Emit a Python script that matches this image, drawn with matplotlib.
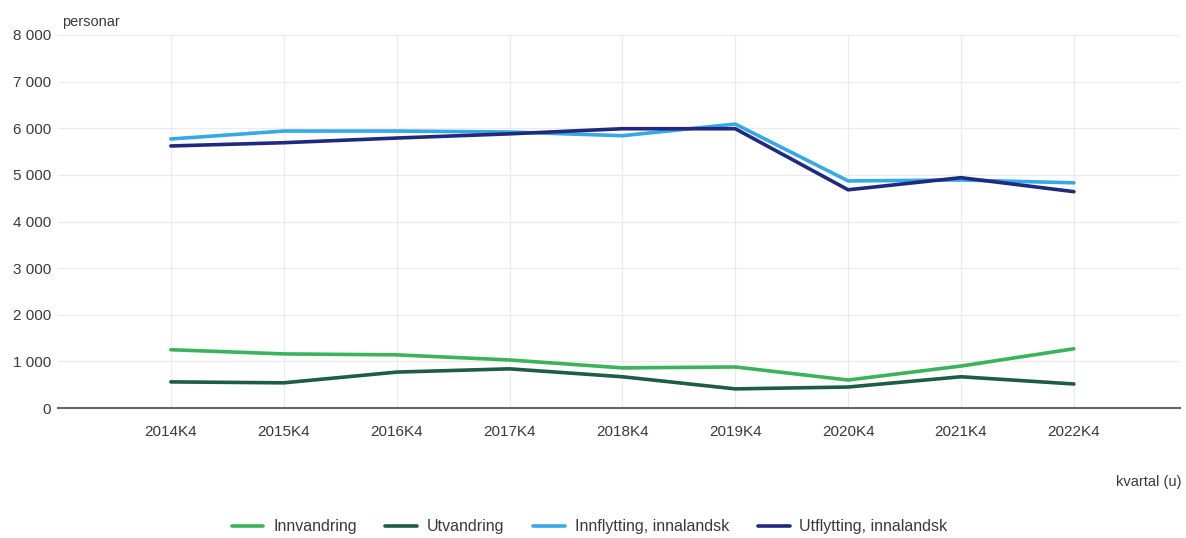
import matplotlib
matplotlib.use("Agg")
import matplotlib.pyplot as plt

# data
quarters = ["2014K4", "2015K4", "2016K4", "2017K4", "2018K4",
            "2019K4", "2020K4", "2021K4", "2022K4"]
innvandring = [1250, 1160, 1140, 1030, 860, 880, 600, 900, 1270]
utvandring = [560, 540, 770, 840, 670, 410, 450, 670, 515]
innflytting = [5770, 5940, 5940, 5920, 5840, 6090, 4870, 4890, 4830]
utflytting = [5620, 5690, 5790, 5880, 5990, 5990, 4680, 4940, 4640]

series = [
    ("Innvandring", innvandring, "#3bb35a"),
    ("Utvandring", utvandring, "#1d5c45"),
    ("Innflytting, innalandsk", innflytting, "#35a8e6"),
    ("Utflytting, innalandsk", utflytting, "#1f2a7e"),
]

plt.rcParams["font.family"] = ["Liberation Sans", "DejaVu Sans"]

fig = plt.figure(figsize=(11.86, 5.38), dpi=100)
ax = fig.add_axes([58 / 1186, 130 / 538, 1122 / 1186, 373 / 538])

x = list(range(len(quarters)))
for name, vals, col in series:
    ax.plot(x, vals, color=col, lw=2.6, label=name, solid_capstyle="round")

ax.set_xlim(-1, 8.94)
ax.set_ylim(0, 8000)
ax.set_xticks(x)
ax.set_xticklabels(quarters, fontsize=11, color="#3a3a3a")
ax.set_yticks(range(0, 8001, 1000))
ax.set_yticklabels([f"{v:,}".replace(",", " ") for v in range(0, 8001, 1000)],
                   fontsize=11, color="#3a3a3a")
ax.tick_params(axis="x", length=0, pad=12)
ax.tick_params(axis="y", length=0, pad=5)

ax.grid(True, color="#ebebeb", lw=0.9)
ax.set_axisbelow(True)
for s in ["left", "right", "top"]:
    ax.spines[s].set_visible(False)
ax.spines["bottom"].set_color("#666666")
ax.spines["bottom"].set_linewidth(1.5)

fig.text(62 / 1186, 1 - 22 / 538, "personar", fontsize=10.5, color="#3a3a3a",
         va="center", ha="left")
fig.text(1182 / 1186, 1 - 482 / 538, "kvartal (u)", fontsize=10.5, color="#3a3a3a",
         va="center", ha="right")

leg = fig.legend(loc="center", bbox_to_anchor=(0.497, 1 - 527 / 538), ncol=4,
                 frameon=False, fontsize=11.5, handlelength=2.0, columnspacing=1.8,
                 handletextpad=0.6)
for t in leg.get_texts():
    t.set_color("#3a3a3a")

fig.savefig("out.png", dpi=100)
